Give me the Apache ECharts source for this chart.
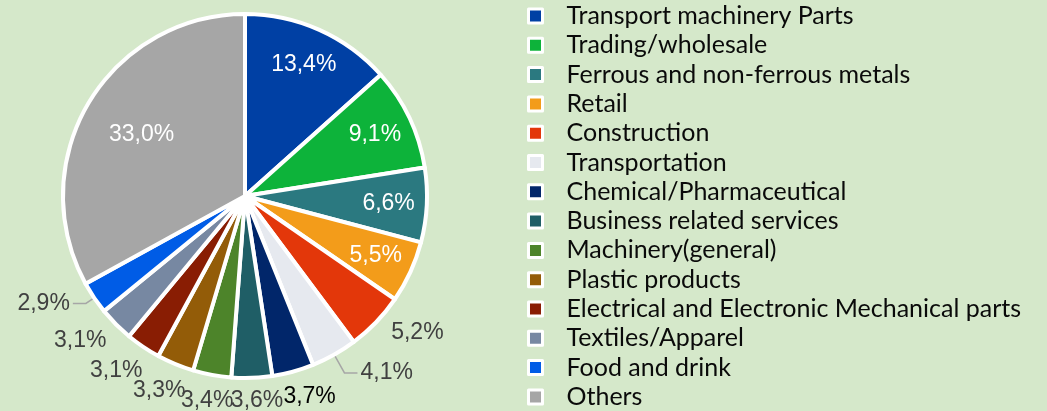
<!DOCTYPE html>
<html>
<head>
<meta charset="utf-8">
<title>Industry share</title>
<script src="https://cdn.jsdelivr.net/npm/echarts@6/dist/echarts.min.js"></script>
<style>
  html, body { margin: 0; padding: 0; background: #d5e8ca; }
  #chart { width: 1047px; height: 411px; }
</style>
</head>
<body>
<div id="chart"></div>
<script>
// 行业构成 pie

const categories = [
  "Transport machinery Parts",
  "Trading/wholesale",
  "Ferrous and non-ferrous metals",
  "Retail",
  "Construction",
  "Transportation",
  "Chemical/Pharmaceutical",
  "Business related services",
  "Machinery(general)",
  "Plastic products",
  "Electrical and Electronic Mechanical parts",
  "Textiles/Apparel",
  "Food and drink",
  "Others"
];
const shares = [13.4, 9.1, 6.6, 5.5, 5.2, 4.1, 3.7, 3.6, 3.4, 3.3, 3.1, 3.1, 2.9, 33.0];
const colors = [
  "#0040a4", "#0db33a", "#2b7980", "#f39c1a", "#e3370a", "#e6e9ef", "#01266a",
  "#1f5e66", "#4d842a", "#935c08", "#891d03", "#7788a2", "#005ce6", "#a6a6a6"
];

// 饼图位置
const PIE_X = 245, PIE_Y = 196, PIE_R = 182;
const insideIdx = [0, 1, 2, 3, 13];   // 白字放在扇区里
const leaderIdx = [5, 12];            // 带引导线的标签

const total = shares.reduce((a, b) => a + b, 0);
const midAngles = [];
let acc = 0;
shares.forEach(v => {
  midAngles.push((acc + v / 2) / total * Math.PI * 2);
  acc += v;
});

const fmt = v => v.toFixed(1).replace(".", ",") + "%";

const pieData = categories.map((name, i) => {
  const item = { name: name, value: shares[i], itemStyle: { color: colors[i] } };
  if (insideIdx.includes(i)) {
    item.label = { position: "inside", color: "#fff" };
  } else if (leaderIdx.includes(i)) {
    item.label = { position: "outside" };
    item.labelLine = { show: true, length: i === 5 ? 21 : 10, length2: 13 };
  } else {
    item.label = { position: "outside", color: i === 6 ? "#000" : "#404040" };
  }
  return item;
});

let chart = echarts.init(document.getElementById("chart"));
let option = {
  backgroundColor: "#d5e8ca",
  animation: false,
  legend: {
    orient: "vertical",
    left: 527,
    top: 3.5,
    padding: 0,
    height: 420,
    itemWidth: 14,
    itemHeight: 14,
    itemGap: 4.3,
    icon: "rect",
    selectedMode: false,
    data: categories,
    itemStyle: { borderColor: "#fff", borderWidth: 3 },
    textStyle: {
      fontFamily: "Lato",
      fontSize: 25,
      color: "#0a0a0a",
      padding: [0, 0, 0, 19]
    }
  },
  series: [
    {
      type: "pie",
      center: [PIE_X, PIE_Y],
      radius: PIE_R,
      startAngle: 90,
      avoidLabelOverlap: false,
      itemStyle: { borderColor: "#fff", borderWidth: 4 },
      label: {
        fontFamily: "Liberation Sans",
        fontSize: 23,
        color: "#404040",
        formatter: p => fmt(p.value),
        distanceToLabelLine: 3
      },
      labelLine: {
        show: false,
        lineStyle: { color: "#a6a6a6", width: 1.5 }
      },
      emphasis: { disabled: true },
      labelLayout: function (p) {
        const i = p.dataIndex;
        if (leaderIdx.includes(i)) return;
        let a = midAngles[i];
        let r;
        if (insideIdx.includes(i)) {
          r = PIE_R * (shares[i] > 20 ? 0.66 : 0.79);
        } else {
          // 底部小扇区的标签稍微散开, 免得挤在一起
          const c = 190 / 180 * Math.PI;
          a = c + (a - c) * 1.1;
          const hw = p.labelRect.width / 2, hh = p.labelRect.height / 2;
          r = PIE_R + 10 + Math.abs(Math.sin(a)) * hw + Math.abs(Math.cos(a)) * hh;
        }
        const dx = Math.sin(a), dy = -Math.cos(a);
        return { x: PIE_X + dx * r, y: PIE_Y + dy * r, align: "center", verticalAlign: "middle" };
      },
      data: pieData
    }
  ]
};
chart.setOption(option);
</script>
</body>
</html>
